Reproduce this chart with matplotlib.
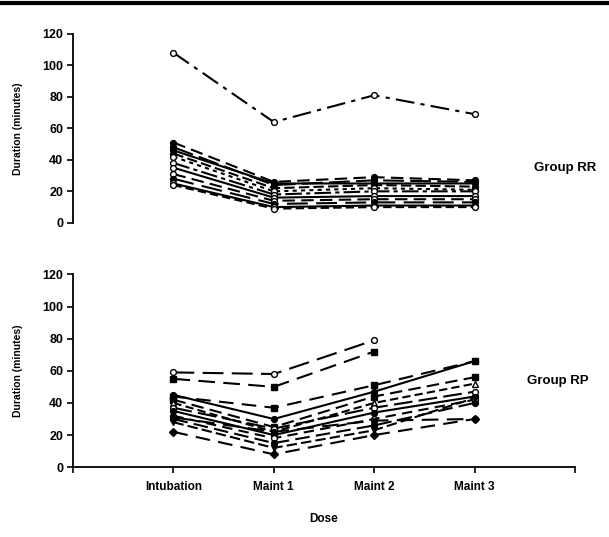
import matplotlib
matplotlib.use("Agg")
import matplotlib.pyplot as plt
from matplotlib.lines import Line2D

plt.rcParams['font.family'] = ['Liberation Sans', 'DejaVu Sans']

doses = ["Intubation", "Maint 1", "Maint 2", "Maint 3"]
xpos = [1, 2, 3, 4]

# Group RR: one list per patient (Intubation, Maint 1, Maint 2, Maint 3)
rr_series = [
    [108, 64, 81, 69],
    [51, 26, 29, 27],
    [48, 24, 27, 26],
    [46, 25, 25, 25],
    [44, 22, 24, 23],
    [42, 20, 22, 21],
    [38, 18, 20, 20],
    [35, 16, 17, 17],
    [31, 14, 15, 15],
    [28, 12, 13, 13],
    [25, 10, 11, 11],
    [24, 9, 10, 10],
]
rr_markers = ['o', 'o', 'o', 'o', 'o', 'o', 'o', 'o', 'o', 'o', 'o', 'o']
rr_filled = [False, True, True, True, True, False, False, False, False, True, False, False]
rr_styles = [(0, (9, 3, 2, 3)), (0, (6, 3)), (0, (10, 3)), '-', (0, (5, 2)),
             (0, (2, 2)), (0, (8, 2, 2, 2)), '-', (0, (6, 3)), (0, (10, 4)), '-', (0, (4, 2))]

# Group RP: some patients have no Maint 3 dose
rp_series = [
    [59, 58, 79],
    [55, 50, 72],
    [44, 37, 51, 66],
    [45, 30, 47, 66],
    [42, 25, 44, 56],
    [40, 22, 40, 52],
    [37, 24, 37, 47],
    [35, 20, 34, 44],
    [32, 18, 30, 42],
    [30, 15, 26, 40],
    [28, 12, 23, 43],
    [31, 22, 29, 30],
    [22, 8, 20, 30],
]
rp_markers = ['o', 's', 's', 'o', 's', '^', 'o', 'o', 'o', 'o', 'v', 'o', 'D']
rp_filled = [False, True, True, True, True, False, False, True, False, True, True, True, True]
rp_styles = [(0, (10, 4)), (0, (8, 4)), (0, (7, 4)), '-', (0, (6, 3)), (0, (4, 2)),
             (0, (9, 3)), '-', (0, (5, 3)), (0, (7, 3)), (0, (5, 2)), (0, (8, 4)), (0, (7, 4))]

fig = plt.figure(figsize=(6.09, 5.37), dpi=100)
ax1 = fig.add_axes([0.120, 0.585, 0.824, 0.352])
ax2 = fig.add_axes([0.120, 0.130, 0.824, 0.359])

fig.add_artist(Line2D([0, 1], [0.995, 0.995], color='black', lw=3,
                      transform=fig.transFigure))


def draw(ax, series, markers, filled, styles):
    for vals, m, f, ls in zip(series, markers, filled, styles):
        ax.plot(xpos[:len(vals)], vals, color='black', lw=1.5, linestyle=ls,
                marker=m, markersize=4.2, markeredgewidth=1.0,
                markerfacecolor='black' if f else 'white', markeredgecolor='black')


draw(ax1, rr_series, rr_markers, rr_filled, rr_styles)
draw(ax2, rp_series, rp_markers, rp_filled, rp_styles)

for ax in (ax1, ax2):
    ax.set_xlim(0, 5)
    ax.set_ylim(0, 120)
    ax.set_yticks(range(0, 121, 20))
    for s in ('top', 'right'):
        ax.spines[s].set_visible(False)
    ax.spines['left'].set_linewidth(1.3)
    ax.tick_params(axis='y', direction='out', length=4, width=1.2, labelsize=9, pad=3)
    for lab in ax.get_yticklabels():
        lab.set_fontweight('bold')
    ax.set_ylabel("Duration (minutes)", fontsize=7.5, fontweight='bold', labelpad=14)

ax1.spines['bottom'].set_visible(False)
ax1.set_xticks([])

ax2.spines['bottom'].set_linewidth(1.3)
ax2.set_xticks([0, 1, 2, 3, 4, 5])
ax2.set_xticklabels([""] + doses + [""], fontsize=8.5, fontweight='bold')
ax2.tick_params(axis='x', direction='out', length=4, width=1.2, pad=6)
ax2.set_xlabel("Dose", fontsize=8.5, fontweight='bold', labelpad=14)

fig.text(0.877, 0.688, "Group RR", fontsize=9.5, fontweight='bold', va='center')
fig.text(0.866, 0.291, "Group RP", fontsize=9.5, fontweight='bold', va='center')

fig.savefig("out.png", dpi=100)
